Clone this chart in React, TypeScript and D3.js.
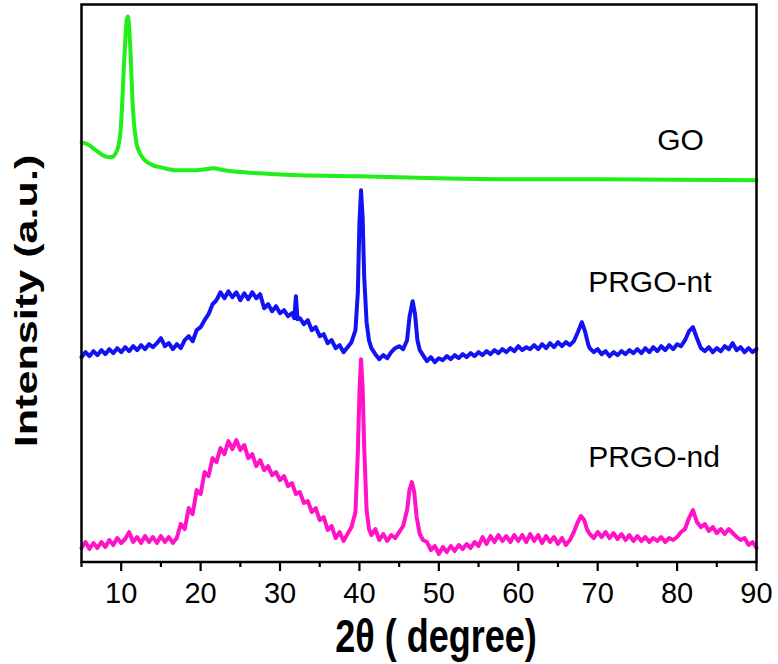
import React from "react";
import * as d3 from "d3";

// 2θ (degree) vs intensity (a.u.)
const goSeries: [number, number][] = [
  [5, 420], [5.5, 419], [6, 417], [6.5, 414], [7, 411], [7.5, 408], [8, 406], [8.5, 405],
  [9, 406], [9.3, 409], [9.6, 415], [9.9, 430], [10.1, 455], [10.3, 490], [10.5, 520],
  [10.7, 543], [10.85, 546], [11.0, 535], [11.2, 505], [11.4, 465], [11.6, 440], [11.9, 420],
  [12.3, 410], [13, 402], [14, 397], [15, 395], [17, 392], [19, 392], [20.5, 393], [21.6, 394],
  [23, 392], [24, 391], [27.5, 389], [32.5, 387], [40, 386], [50, 384], [60, 383], [70, 383],
  [80, 382.5], [90, 382],
];

const prgoNtSeries: [number, number][] = [
  [5.0, 205], [5.5, 210], [6.0, 206], [6.5, 211], [7.0, 207], [7.5, 212], [8.0, 208], [8.5, 213],
  [9.0, 209], [9.5, 214], [10.0, 210], [10.5, 215], [11.0, 211], [11.5, 216], [12.0, 212],
  [12.5, 217], [13.0, 213], [13.5, 218], [14.0, 215], [14.5, 219], [15.0, 224], [15.5, 216],
  [16.0, 219], [16.5, 213], [17.0, 218], [17.5, 214], [18.0, 222], [18.5, 226], [19.0, 221],
  [19.5, 232], [20.0, 235], [20.5, 242], [21.0, 248], [21.5, 258], [22.0, 262], [22.5, 270],
  [23.0, 264], [23.5, 271], [24.0, 265], [24.5, 270], [25.0, 262], [25.5, 269], [26.0, 263],
  [26.5, 270], [27.0, 264], [27.5, 268], [28.0, 254], [28.5, 258], [29.0, 251], [29.5, 256],
  [30.0, 249], [30.5, 252], [31.0, 246], [31.5, 249], [31.8, 244], [32.0, 266], [32.2, 243],
  [32.5, 244], [33.0, 238], [33.5, 242], [34.0, 232], [34.5, 235], [35.0, 226], [35.5, 228],
  [36.0, 219], [36.5, 222], [37.0, 214], [37.5, 217], [38.0, 210], [38.5, 215], [39.0, 220],
  [39.5, 232], [39.8, 270], [40.0, 340], [40.2, 372], [40.4, 345], [40.6, 285], [40.9, 240],
  [41.2, 222], [41.5, 214], [42.0, 208], [42.5, 203], [43.0, 207], [43.5, 204], [44.0, 210],
  [44.5, 214], [45.0, 216], [45.5, 213], [46.0, 222], [46.3, 245], [46.7, 261], [47.0, 248],
  [47.3, 222], [47.6, 212], [48.0, 207], [48.5, 201], [49.0, 205], [49.5, 200], [50.0, 204],
  [50.5, 202], [51.0, 206], [51.5, 203], [52.0, 207], [52.5, 204], [53.0, 208], [53.5, 205],
  [54.0, 209], [54.5, 206], [55.0, 210], [55.5, 207], [56.0, 211], [56.5, 208], [57.0, 212],
  [57.5, 209], [58.0, 213], [58.5, 210], [59.0, 214], [59.5, 211], [60.0, 216], [60.5, 212],
  [61.0, 215], [61.5, 213], [62.0, 217], [62.5, 213], [63.0, 218], [63.5, 214], [64.0, 219],
  [64.5, 215], [65.0, 220], [65.5, 216], [66.0, 220], [66.5, 217], [67.0, 221], [67.5, 230],
  [68.0, 240], [68.4, 231], [68.8, 218], [69.0, 214], [69.5, 210], [70.0, 213], [70.5, 208],
  [71.0, 211], [71.5, 206], [72.0, 210], [72.5, 207], [73.0, 211], [73.5, 208], [74.0, 212],
  [74.5, 209], [75.0, 213], [75.5, 209], [76.0, 214], [76.5, 210], [77.0, 215], [77.5, 211],
  [78.0, 216], [78.5, 212], [79.0, 217], [79.5, 213], [80.0, 218], [80.5, 216], [81.0, 222],
  [81.5, 231], [82.0, 235], [82.5, 224], [83.0, 214], [83.5, 211], [84.0, 215], [84.5, 210],
  [85.0, 214], [85.5, 211], [86.0, 216], [86.5, 213], [87.0, 219], [87.5, 212], [88.0, 215],
  [88.5, 210], [89.0, 214], [89.5, 210], [90.0, 213],
];

const prgoNdSeries: [number, number][] = [
  [5.0, 14], [5.5, 20], [6.0, 13], [6.5, 19], [7.0, 14], [7.5, 20], [8.0, 15], [8.5, 22],
  [9.0, 17], [9.5, 24], [10.0, 19], [10.5, 23], [11.0, 30], [11.5, 20], [12.0, 25], [12.5, 19],
  [13.0, 26], [13.5, 20], [14.0, 25], [14.5, 19], [15.0, 26], [15.5, 20], [16.0, 25], [16.5, 19],
  [17.0, 24], [17.5, 38], [18.0, 33], [18.5, 54], [19.0, 48], [19.5, 72], [20.0, 68], [20.5, 90],
  [21.0, 86], [21.5, 104], [22.0, 100], [22.5, 114], [23.0, 108], [23.5, 121], [24.0, 113],
  [24.5, 122], [25.0, 112], [25.5, 117], [26.0, 104], [26.5, 108], [27.0, 96], [27.5, 102],
  [28.0, 92], [28.5, 96], [29.0, 87], [29.5, 90], [30.0, 82], [30.5, 86], [31.0, 76], [31.5, 79],
  [32.0, 68], [32.5, 70], [33.0, 59], [33.5, 61], [34.0, 50], [34.5, 54], [35.0, 42], [35.5, 45],
  [36.0, 32], [36.5, 36], [37.0, 24], [37.5, 30], [38.0, 21], [38.5, 28], [39.0, 35], [39.5, 50],
  [39.8, 110], [40.0, 170], [40.2, 203], [40.4, 175], [40.6, 115], [40.9, 52], [41.2, 33],
  [41.5, 27], [42.0, 33], [42.5, 22], [43.0, 28], [43.5, 21], [44.0, 27], [44.5, 24], [45.0, 30],
  [45.5, 36], [46.0, 52], [46.3, 72], [46.6, 80], [46.9, 70], [47.2, 45], [47.6, 28], [48.0, 22],
  [48.5, 20], [49.0, 12], [49.5, 16], [50.0, 8], [50.5, 15], [51.0, 10], [51.5, 16], [52.0, 11],
  [52.5, 17], [53.0, 13], [53.5, 18], [54.0, 14], [54.5, 20], [55.0, 16], [55.5, 25], [56.0, 18],
  [56.5, 26], [57.0, 20], [57.5, 27], [58.0, 21], [58.5, 26], [59.0, 20], [59.5, 27], [60.0, 21],
  [60.5, 27], [61.0, 20], [61.5, 28], [62.0, 21], [62.5, 27], [63.0, 19], [63.5, 26], [64.0, 20],
  [64.5, 25], [65.0, 18], [65.5, 24], [66.0, 17], [66.5, 22], [67.0, 30], [67.5, 40], [67.9, 46],
  [68.3, 42], [68.7, 32], [69.0, 28], [69.5, 24], [70.0, 30], [70.5, 25], [71.0, 30], [71.5, 24],
  [72.0, 29], [72.5, 23], [73.0, 28], [73.5, 22], [74.0, 27], [74.5, 21], [75.0, 26], [75.5, 21],
  [76.0, 25], [76.5, 20], [77.0, 24], [77.5, 21], [78.0, 25], [78.5, 20], [79.0, 24], [79.5, 22],
  [80.0, 25], [80.5, 30], [81.0, 33], [81.5, 44], [82.0, 52], [82.5, 40], [83.0, 35], [83.5, 38],
  [84.0, 31], [84.5, 35], [85.0, 29], [85.5, 33], [86.0, 28], [86.5, 33], [87.0, 29], [87.5, 25],
  [88.0, 22], [88.5, 24], [89.0, 17], [89.5, 20], [90.0, 14],
];

const majorTicks = [10, 20, 30, 40, 50, 60, 70, 80, 90];
const minorTicks = [5, 15, 25, 35, 45, 55, 65, 75, 85];

const seriesNames = ["GO", "PRGO-nt", "PRGO-nd"];
const seriesColors = ["#22ee18", "#1212f2", "#ff12c8"];
const labelAnchors: [number, number][] = [[77.5, 412], [68.8, 270], [68.8, 95]];

const W = 778;
const H = 664;
const margin = { left: 81.5, right: 21.5, top: 4.5, bottom: 102 };

export default function App() {
  const x = d3.scaleLinear().domain([5, 90]).range([margin.left, W - margin.right]);
  const y = d3.scaleLinear().domain([0, 558]).range([H - margin.bottom, margin.top]);
  const lineLin = d3.line<[number, number]>().x((d) => x(d[0])).y((d) => y(d[1]));
  const lineSmooth = d3
    .line<[number, number]>()
    .x((d) => x(d[0]))
    .y((d) => y(d[1]))
    .curve(d3.curveMonotoneX);

  const all = [goSeries, prgoNtSeries, prgoNdSeries];
  const x0 = x(5);
  const x1 = x(90);
  const yB = y(0);
  const yT = y(558);
  const font = "'Liberation Sans', Arial, Helvetica, sans-serif";

  return (
    <svg
      width={W}
      height={H}
      style={{ position: "absolute", left: 0, top: 0, background: "#fff" }}
      fontFamily={font}
    >
      <rect x={0} y={0} width={W} height={H} fill="#fff" />
      {all.map((s, i) => (
        <path
          key={seriesNames[i]}
          d={(i === 0 ? lineSmooth : lineLin)(s) || ""}
          fill="none"
          stroke={seriesColors[i]}
          strokeWidth={4}
          strokeLinejoin="round"
          strokeLinecap="round"
        />
      ))}
      {/* frame */}
      <rect x={x0} y={yT} width={x1 - x0} height={yB - yT} fill="none" stroke="#000" strokeWidth={2.5} />
      {majorTicks.map((t) => (
        <line key={"M" + t} x1={x(t)} x2={x(t)} y1={yB} y2={yB + 9} stroke="#000" strokeWidth={2.2} />
      ))}
      {minorTicks.map((t) => (
        <line key={"m" + t} x1={x(t)} x2={x(t)} y1={yB} y2={yB + 5} stroke="#000" strokeWidth={2.2} />
      ))}
      {majorTicks.map((t) => (
        <text key={"L" + t} x={x(t)} y={yB + 41} textAnchor="middle" fontSize={29} fill="#000">
          {t}
        </text>
      ))}
      {seriesNames.map((n, i) => (
        <text
          key={"n" + n}
          x={x(labelAnchors[i][0])}
          y={y(labelAnchors[i][1])}
          fontSize={30}
          fill="#000"
        >
          {n}
        </text>
      ))}
      <text
        transform={`translate(436, 652) scale(1, 1.28)`}
        textAnchor="middle"
        fontSize={36}
        fontWeight="bold"
        fill="#000"
      >
        2θ ( degree)
      </text>
      <text
        transform={`translate(37, 301) rotate(-90) scale(1.35, 1)`}
        textAnchor="middle"
        fontSize={32}
        fontWeight="bold"
        fill="#000"
      >
        Intensity (a.u.)
      </text>
    </svg>
  );
}
